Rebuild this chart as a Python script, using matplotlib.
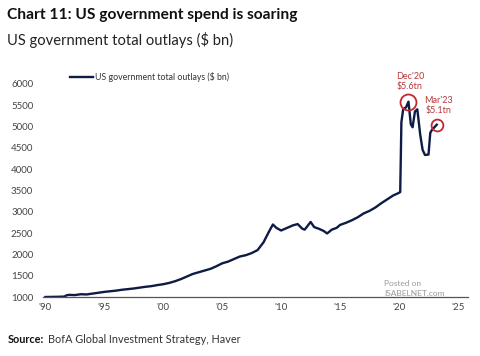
import matplotlib.pyplot as plt

# US government total outlays ($ bn)
years = [1990.0, 1991.0, 1991.6, 1991.8, 1992.0, 1992.5, 1993.0, 1993.5, 1994.0, 1994.5,
         1995.0, 1995.5, 1996.0, 1996.5, 1997.0, 1997.5, 1998.0, 1998.5, 1999.0, 1999.5,
         2000.0, 2000.5, 2001.0, 2001.5, 2002.0, 2002.5, 2003.0, 2003.5, 2004.0, 2004.5,
         2005.0, 2005.5, 2006.0, 2006.5, 2007.0, 2007.5, 2008.0, 2008.5, 2009.0, 2009.3,
         2009.6, 2010.0, 2010.5, 2011.0, 2011.4, 2011.8, 2012.0, 2012.5, 2012.8, 2013.2,
         2013.6, 2013.9, 2014.3, 2014.7, 2015.0, 2015.5, 2016.0, 2016.5, 2017.0, 2017.5,
         2018.0, 2018.5, 2019.0, 2019.5, 2019.9, 2020.1, 2020.2, 2020.35, 2020.6, 2020.8,
         2021.0, 2021.15, 2021.35, 2021.55, 2021.8, 2022.0, 2022.2, 2022.5, 2022.65, 2022.8,
         2023.0, 2023.2]
outlays = [1000, 1005, 1010, 1040, 1050, 1045, 1065, 1060, 1080, 1100,
           1120, 1135, 1150, 1170, 1185, 1200, 1220, 1240, 1255, 1280,
           1300, 1330, 1370, 1420, 1480, 1540, 1580, 1620, 1660, 1720,
           1790, 1830, 1890, 1950, 1980, 2030, 2100, 2280, 2550, 2700,
           2620, 2560, 2620, 2680, 2710, 2600, 2580, 2760, 2640, 2600,
           2550, 2490, 2580, 2620, 2690, 2740, 2800, 2870, 2960, 3020,
           3100, 3200, 3290, 3380, 3430, 3460, 5100, 5400, 5450, 5580,
           5050, 4980, 5350, 5400, 4800, 4450, 4330, 4340, 4850, 4920,
           4980, 5040]

callout_years = [2020.8, 2023.2]
callout_labels = ["Dec'20\n$5.6tn", "Mar'23\n$5.1tn"]

xtick_years = [1990, 1995, 2000, 2005, 2010, 2015, 2020, 2025]
xtick_labels = ["'90", "'95", "'00", "'05", "'10", "'15", "'20", "'25"]
ytick_values = [1000, 1500, 2000, 2500, 3000, 3500, 4000, 4500, 5000, 5500, 6000]

NAVY = '#0d1b45'
RED = '#c0282e'
GREY = '#444444'

plt.rcParams['font.family'] = ['Lato', 'DejaVu Sans']

fig = plt.figure(figsize=(4.8, 3.56), dpi=100)
ax = fig.add_axes([0.0896, 0.1657, 0.8854, 0.635])

ax.plot(years, outlays, color=NAVY, lw=1.7, label='US government total outlays ($ bn)')

# Callout circles and labels
sizes = [11.5, 8.5]
offsets = [8, 7]
for yr, lab, ms, off in zip(callout_years, callout_labels, sizes, offsets):
    v = outlays[years.index(yr)]
    ax.plot([yr], [v], 'o', ms=ms, mfc='none', mec=RED, mew=1.3)
    ax.annotate(lab, (yr, v), xytext=(1, off), textcoords='offset points',
                ha='center', va='bottom', fontsize=6.5, color='#b8383c', linespacing=1.1)

ax.set_xlim(1989.8, 2025.85)
ax.set_ylim(1000, 6300)
ax.set_xticks(xtick_years)
ax.set_xticklabels(xtick_labels)
ax.set_yticks(ytick_values)
ax.tick_params(length=0, labelsize=7, colors=GREY, pad=4)
ax.tick_params(axis='y', pad=7)

for s in ['top', 'right', 'left']:
    ax.spines[s].set_visible(False)
ax.spines['bottom'].set_color('#555555')
ax.spines['bottom'].set_linewidth(0.9)

leg = ax.legend(loc='upper left', bbox_to_anchor=(0.045, 1.03), frameon=False,
                fontsize=6.3, handlelength=2.6, handletextpad=0.2)
for t in leg.get_texts():
    t.set_color('#333333')

# Titles
fig.text(0.015, 0.958, 'Chart 11: US government spend is soaring', fontsize=11.2,
         fontweight='bold', color='#111111', va='center')
fig.text(0.015, 0.888, 'US government total outlays ($ bn)', fontsize=10.6,
         color='#222222', va='center')

# Source
fig.text(0.015, 0.045, 'Source:', fontsize=7.8, fontweight='bold', color='#111111', va='center')
fig.text(0.1, 0.045, 'BofA Global Investment Strategy, Haver', fontsize=7.8,
         color='#333333', va='center')

# Watermark
fig.text(0.80, 0.19, 'Posted on\nISABELNET.com', fontsize=6, color='#9a9a9a',
         va='center', ha='left', linespacing=1.6)

fig.savefig('out.png', dpi=100, facecolor='white')
